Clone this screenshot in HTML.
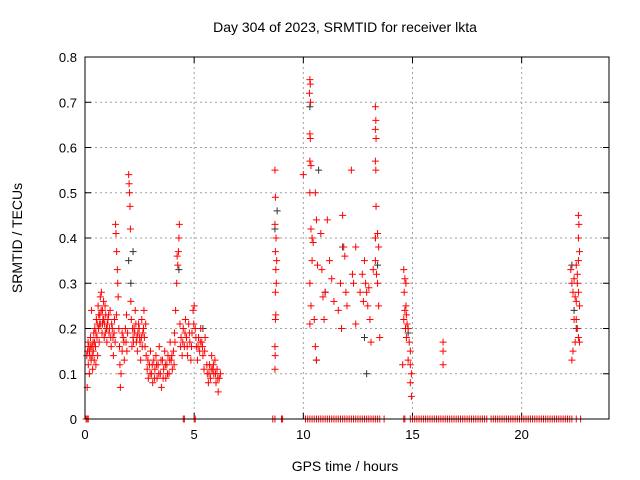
<!DOCTYPE html>
<html><head><meta charset="utf-8"><style>
body{margin:0;background:#fff}
svg{display:block;font-family:"Liberation Sans",sans-serif}
</style></head><body>
<svg id="chart" width="640" height="480" viewBox="0 0 640 480" xmlns="http://www.w3.org/2000/svg">
<text x="345" y="32" font-size="14" text-anchor="middle">Day 304 of 2023, SRMTID for receiver lkta</text>
<text transform="translate(22,238) rotate(-90)" font-size="14" text-anchor="middle">SRMTID / TECUs</text>
<text x="345" y="471" font-size="14" text-anchor="middle">GPS time / hours</text>
<g id="grid"></g>
<g id="ticks"></g>
<g id="marks"></g>
<rect x="85" y="57" width="524" height="362" fill="none" stroke="#000" stroke-width="1"/>
</svg>
<script>
const xTicks=[0,5,10,15,20];
const yTicks=[0,0.1,0.2,0.3,0.4,0.5,0.6,0.7,0.8];
const yTickLabels=["0","0.1","0.2","0.3","0.4","0.5","0.6","0.7","0.8"];
const blackPts=[[1.0,0.2],[2.0,0.35],[2.1,0.3],[2.2,0.37],[4.3,0.33],[5.4,0.2],[8.8,0.46],[8.7,0.42],[10.3,0.69],[10.7,0.55],[11.0,0.28],[10.6,0.13],[12.9,0.1],[13.4,0.34],[13.3,0.4],[14.8,0.19],[22.3,0.34],[22.4,0.24],[22.5,0.2],[12.8,0.18],[11.8,0.38]];
const redPts=[
[0.1,0.07],[0.12,0.15],[0.15,0.12],[0.18,0.16],[0.2,0.1],[0.22,0.14],[0.25,0.18],[0.28,0.13],[0.3,0.24],[0.32,0.16],[0.35,0.11],[0.38,0.15],[0.4,0.19],[0.42,0.13],[0.45,0.2],[0.48,0.16],[0.5,0.12],[0.52,0.22],[0.55,0.18],[0.58,0.14],[0.6,0.25],[0.62,0.2],[0.65,0.17],[0.68,0.23],[0.7,0.27],[0.72,0.21],[0.75,0.28],[0.78,0.19],[0.8,0.24],[0.82,0.22],[0.85,0.26],[0.88,0.18],[0.9,0.21],[0.92,0.25],[0.95,0.23],[0.98,0.2],[1.0,0.17],[1.05,0.22],[1.1,0.19],[1.15,0.24],[1.2,0.16],[1.25,0.2],[1.3,0.14],[1.35,0.22],[1.4,0.43],[1.42,0.41],[1.45,0.37],[1.48,0.33],[1.5,0.3],[1.52,0.27],[1.55,0.2],[1.58,0.16],[1.6,0.12],[1.62,0.07],[1.65,0.1],[1.7,0.15],[1.75,0.18],[1.8,0.13],[1.85,0.2],[1.9,0.23],[1.95,0.19],[2.0,0.54],[2.02,0.52],[2.04,0.5],[2.06,0.47],[2.08,0.42],[2.1,0.26],[2.12,0.22],[2.15,0.16],[2.2,0.18],[2.25,0.2],[2.3,0.24],[2.35,0.17],[2.4,0.15],[2.45,0.21],[2.5,0.18],[2.55,0.13],[2.6,0.22],[2.65,0.19],[2.7,0.24],[2.75,0.16],
[0.08,0.14],[0.14,0.17],[0.2,0.15],[0.26,0.16],[0.33,0.14],[0.37,0.17],[0.44,0.17],[0.5,0.19],[0.56,0.21],[0.63,0.23],[0.66,0.21],[0.74,0.24],[0.8,0.21],[0.86,0.22],[0.93,0.19],[1.02,0.21],[1.08,0.23],[1.12,0.2],[1.18,0.18],[1.22,0.21],[1.28,0.18],[1.33,0.19],[1.38,0.17],[1.44,0.23],[1.7,0.19],[1.78,0.17],[1.88,0.17],[1.92,0.15],[2.18,0.2],[2.22,0.17],[2.28,0.19],[2.33,0.21],[2.38,0.18],[2.42,0.19],[2.48,0.2],[2.52,0.17],[2.58,0.18],[2.62,0.16],[2.68,0.2],[2.72,0.18],[2.78,0.21],
[2.8,0.14],[2.85,0.11],[2.9,0.09],[2.95,0.12],[3.0,0.15],[3.05,0.1],[3.1,0.08],[3.15,0.13],[3.2,0.11],[3.25,0.14],[3.3,0.09],[3.35,0.12],[3.4,0.16],[3.45,0.1],[3.5,0.07],[3.55,0.13],[3.6,0.11],[3.65,0.15],[3.7,0.09],[3.75,0.12],[3.8,0.14],[3.85,0.1],[3.9,0.17],[3.95,0.13],[4.0,0.11],[4.05,0.15],[4.1,0.19],[4.15,0.24],[4.2,0.3],[4.22,0.36],[4.25,0.34],[4.28,0.37],[4.3,0.4],[4.32,0.43],[4.35,0.21],[4.4,0.18],[4.45,0.14],[4.5,0.2],[4.55,0.16],[4.6,0.22],[4.65,0.18],[4.7,0.14],[4.75,0.21],[4.8,0.17],[4.85,0.13],[4.9,0.19],[4.95,0.24],[5.0,0.25],[5.05,0.2],[5.1,0.16],[5.15,0.13],[5.2,0.18],[5.25,0.15],[5.3,0.2],[5.35,0.17],[5.4,0.14],[5.45,0.11],[5.5,0.18],[5.6,0.1],[5.65,0.08],[5.7,0.12],[5.75,0.09],[5.8,0.14],[5.85,0.11],[5.9,0.1],[5.95,0.13],[6.0,0.08],[6.05,0.11],[6.1,0.06],[6.15,0.09],[6.2,0.1],
[2.88,0.13],[2.98,0.1],[3.08,0.12],[3.18,0.09],[3.28,0.12],[3.38,0.1],[3.48,0.13],[3.58,0.09],[3.68,0.12],[3.78,0.1],[3.88,0.13],[3.98,0.14],[4.08,0.12],[4.12,0.17],[4.38,0.16],[4.48,0.17],[4.58,0.19],[4.68,0.16],[4.78,0.19],[4.88,0.16],[4.98,0.21],[5.08,0.18],[5.18,0.16],[5.28,0.17],[5.38,0.16],[5.48,0.15],[5.58,0.12],[5.68,0.1],[5.78,0.11],[5.88,0.12],[5.98,0.1],[6.08,0.09],
[8.7,0.55],[8.72,0.49],[8.7,0.43],[8.75,0.4],[8.72,0.37],[8.78,0.35],[8.74,0.33],[8.76,0.3],[8.72,0.28],[8.74,0.23],[8.72,0.22],[8.7,0.16],[8.71,0.14],[8.7,0.11],
[10.0,0.54],[10.3,0.75],[10.32,0.74],[10.28,0.72],[10.33,0.7],[10.3,0.63],[10.32,0.62],[10.3,0.57],[10.35,0.56],[10.3,0.5],[10.35,0.42],[10.4,0.4],[10.4,0.35],[10.3,0.3],[10.35,0.25],[10.3,0.21],[10.5,0.22],[10.55,0.16],[10.6,0.13],[10.45,0.39],[10.55,0.5],[10.6,0.44],[10.65,0.34],[10.8,0.41],[10.85,0.33],[10.9,0.27],[10.95,0.22],[11.0,0.28],[11.1,0.44],[11.2,0.35],[11.3,0.31],[11.4,0.26],[11.6,0.24],[11.7,0.3],[11.75,0.2],[11.8,0.45],[11.85,0.38],[11.9,0.36],[11.95,0.28],[12.0,0.25],[12.2,0.55],[12.25,0.32],[12.3,0.3],[12.4,0.38],[12.4,0.21],[12.6,0.28],[12.7,0.32],[12.75,0.26],[12.8,0.35],[12.85,0.3],[12.9,0.28],[12.95,0.25],[13.0,0.29],[13.05,0.22],[13.1,0.17],[13.2,0.33],[13.3,0.69],[13.32,0.66],[13.3,0.64],[13.33,0.62],[13.3,0.57],[13.32,0.55],[13.33,0.47],[13.3,0.4],[13.4,0.41],[13.45,0.38],[13.3,0.35],[13.35,0.32],[13.4,0.3],[13.45,0.25],[13.5,0.18],
[14.6,0.33],[14.65,0.31],[14.7,0.3],[14.62,0.28],[14.7,0.25],[14.65,0.24],[14.72,0.23],[14.6,0.22],[14.75,0.21],[14.68,0.2],[14.8,0.2],[14.72,0.18],[14.85,0.17],[14.9,0.15],[14.8,0.13],[14.9,0.12],[14.95,0.1],[14.9,0.08],[14.95,0.05],[14.55,0.12],[16.4,0.17],[16.4,0.15],[16.4,0.12],
[22.25,0.33],[22.3,0.3],[22.35,0.28],[22.4,0.31],[22.45,0.27],[22.5,0.34],[22.55,0.32],[22.6,0.45],[22.62,0.43],[22.6,0.4],[22.65,0.37],[22.6,0.35],[22.55,0.3],[22.6,0.28],[22.65,0.25],[22.5,0.22],[22.55,0.2],[22.6,0.18],[22.45,0.17],[22.65,0.17],[22.35,0.15],[22.3,0.13],[22.4,0.22],[22.5,0.26]];
const zeroX=[0.05,0.1,0.15,4.5,4.55,5.0,5.05,8.6,8.7,9.0,9.05,10.1,10.2,10.3,10.4,10.5,10.6,10.7,10.8,10.9,11.0,11.1,11.2,11.3,11.4,11.5,11.6,11.7,11.8,11.9,12.0,12.1,12.2,12.3,12.4,12.5,12.6,12.7,12.8,12.9,13.0,13.1,13.2,13.3,13.4,13.5,13.7,14.6,14.65,14.9,15.0,15.1,15.2,15.3,15.4,15.5,15.6,15.7,15.8,15.9,16.0,16.1,16.2,16.3,16.4,16.5,16.6,16.7,16.8,16.9,17.0,17.1,17.2,17.3,17.4,17.5,17.6,17.7,17.8,17.9,18.0,18.1,18.2,18.3,18.4,18.6,18.7,18.8,18.9,19.0,19.1,19.2,19.3,19.4,19.5,19.6,19.7,19.8,19.9,20.0,20.1,20.2,20.3,20.4,20.5,20.6,20.7,20.8,20.9,21.0,21.1,21.2,21.3,21.4,21.5,21.6,21.7,21.8,21.9,22.0,22.1,22.2,22.3,22.5,22.7];
const X0=85,X1=609,Y0=419,Y1=57;
const xs=v=>X0+v/24*(X1-X0);
const ys=v=>Y0-v/0.8*(Y0-Y1);
const NS="http://www.w3.org/2000/svg";
const grid=document.getElementById('grid'),ticks=document.getElementById('ticks'),marks=document.getElementById('marks');
function mk(tag,attrs,parent){const e=document.createElementNS(NS,tag);for(const k in attrs)e.setAttribute(k,attrs[k]);parent.appendChild(e);return e;}
xTicks.forEach(t=>{const x=xs(t);
 if(t>0){const g=mk('line',{x1:x,x2:x,y1:Y0,y2:Y1,stroke:'#a0a0a0','stroke-dasharray':'2,3'},grid);
 
 }
 mk('line',{x1:x,x2:x,y1:Y0,y2:Y0-6,stroke:'#000'},ticks);mk('line',{x1:x,x2:x,y1:Y1,y2:Y1+6,stroke:'#000'},ticks);
 const tx=mk('text',{x:x,y:Y0+20,'font-size':13,'text-anchor':'middle'},ticks);tx.textContent=t;
 
 });
yTicks.forEach((t,i)=>{const y=ys(t);
 if(t>0&&t<0.8){const g=mk('line',{x1:X0,x2:X1,y1:y,y2:y,stroke:'#a0a0a0','stroke-dasharray':'2,3'},grid);
 
 }
 mk('line',{x1:X0,x2:X0+6,y1:y,y2:y,stroke:'#000'},ticks);mk('line',{x1:X1,x2:X1-6,y1:y,y2:y,stroke:'#000'},ticks);
 const tx=mk('text',{x:X0-8,y:y+5,'font-size':13,'text-anchor':'end'},ticks);tx.textContent=yTickLabels[i];
 
 });
function plus(x,y,c){const p=mk('path',{d:`M${x-3.5},${y}h7M${x},${y-3.5}v7`,stroke:c,'stroke-width':1,fill:'none'},marks);return p;}
blackPts.forEach(d=>{const p=plus(xs(d[0]),ys(d[1]),'#333');
 
 });
redPts.forEach(d=>{const p=plus(xs(d[0]),ys(d[1]),'#ff0000');
 
 });
zeroX.forEach(v=>{const p=plus(xs(v),ys(0),'#ff0000');
 
 });
</script>
</body></html>
